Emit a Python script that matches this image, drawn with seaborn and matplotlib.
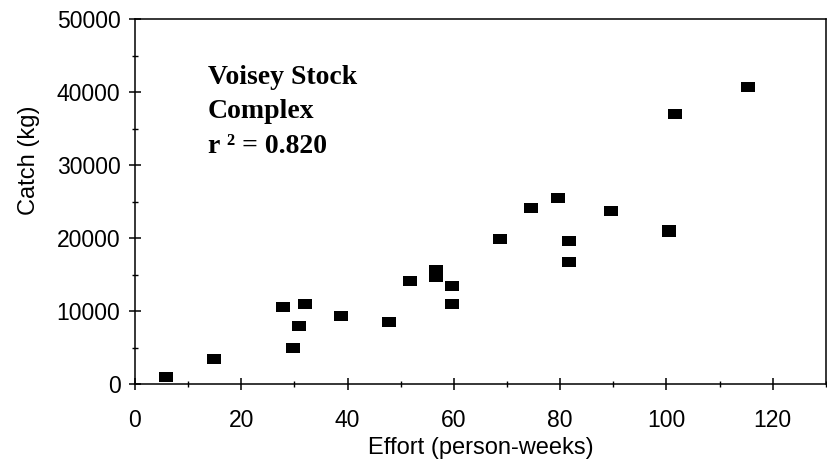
import numpy as np
import pandas as pd
import matplotlib
matplotlib.use('Agg')
import matplotlib.pyplot as plt
import seaborn as sns
from matplotlib.ticker import MultipleLocator

# values
effort = [5.9, 14.9, 27.8, 29.8, 30.8, 31.9, 38.8, 47.8, 51.8, 56.7, 56.7,
          59.7, 59.7, 68.7, 74.5, 79.6, 81.7, 81.7, 89.6, 100.5, 100.5,
          101.6, 115.4]
catch = [1040, 3410, 10580, 4990, 7950, 11050, 9350, 8540, 14090, 15590, 14670,
         13400, 11050, 19880, 24090, 25580, 19650, 16700, 23770, 21200, 20900,
         37040, 40680]
x_ticks = [0, 20, 40, 60, 80, 100, 120]
y_ticks = [0, 10000, 20000, 30000, 40000, 50000]
note = "Voisey Stock\nComplex\nr \u00b2 = 0.820"

df = pd.DataFrame({'Effort': effort, 'Catch': catch})

sns.set_style('white')
plt.rcParams['font.family'] = ['Liberation Sans', 'DejaVu Sans']
plt.rcParams['text.color'] = 'black'
plt.rcParams['axes.labelcolor'] = 'black'

fig = plt.figure(figsize=(8.27, 4.69), dpi=100)
ax = fig.add_axes([0.1632, 0.1806, 0.8355, 0.7782])

# flat rectangular marker like the original
rect = [(-1.43, -1), (1.43, -1), (1.43, 1), (-1.43, 1)]
sns.scatterplot(data=df, x='Effort', y='Catch', marker=rect, s=95,
                color='black', linewidth=0, ax=ax, legend=False)

ax.set_xlim(0, 130)
ax.set_ylim(0, 50000)
ax.set_xticks(x_ticks)
ax.set_yticks(y_ticks)
ax.xaxis.set_minor_locator(MultipleLocator(10))
ax.yaxis.set_minor_locator(MultipleLocator(5000))

ax.tick_params(axis='both', which='both', bottom=True, left=True,
               top=False, right=False)
ax.tick_params(axis='both', which='major', direction='inout', length=9,
               width=1.1, color='black', labelsize=16.5, labelcolor='black')
ax.tick_params(axis='both', which='minor', direction='inout', length=4.5,
               width=1.0, color='black')
ax.tick_params(axis='x', which='major', pad=13)
ax.tick_params(axis='y', which='major', pad=6)

for sp in ax.spines.values():
    sp.set_color('black')
    sp.set_linewidth(1.1)

ax.set_xlabel('Effort (person-weeks)', fontsize=17, labelpad=4, color='black')
ax.set_ylabel('Catch (kg)', fontsize=17, color='black')
ax.yaxis.set_label_coords(-0.137, 0.615)

ax.text(13.7, 43800, note, ha='left', va='top', fontsize=20,
        fontweight='bold', color='black',
        family=['Liberation Serif', 'DejaVu Serif'], linespacing=1.5)

fig.savefig('out.png', dpi=100)
